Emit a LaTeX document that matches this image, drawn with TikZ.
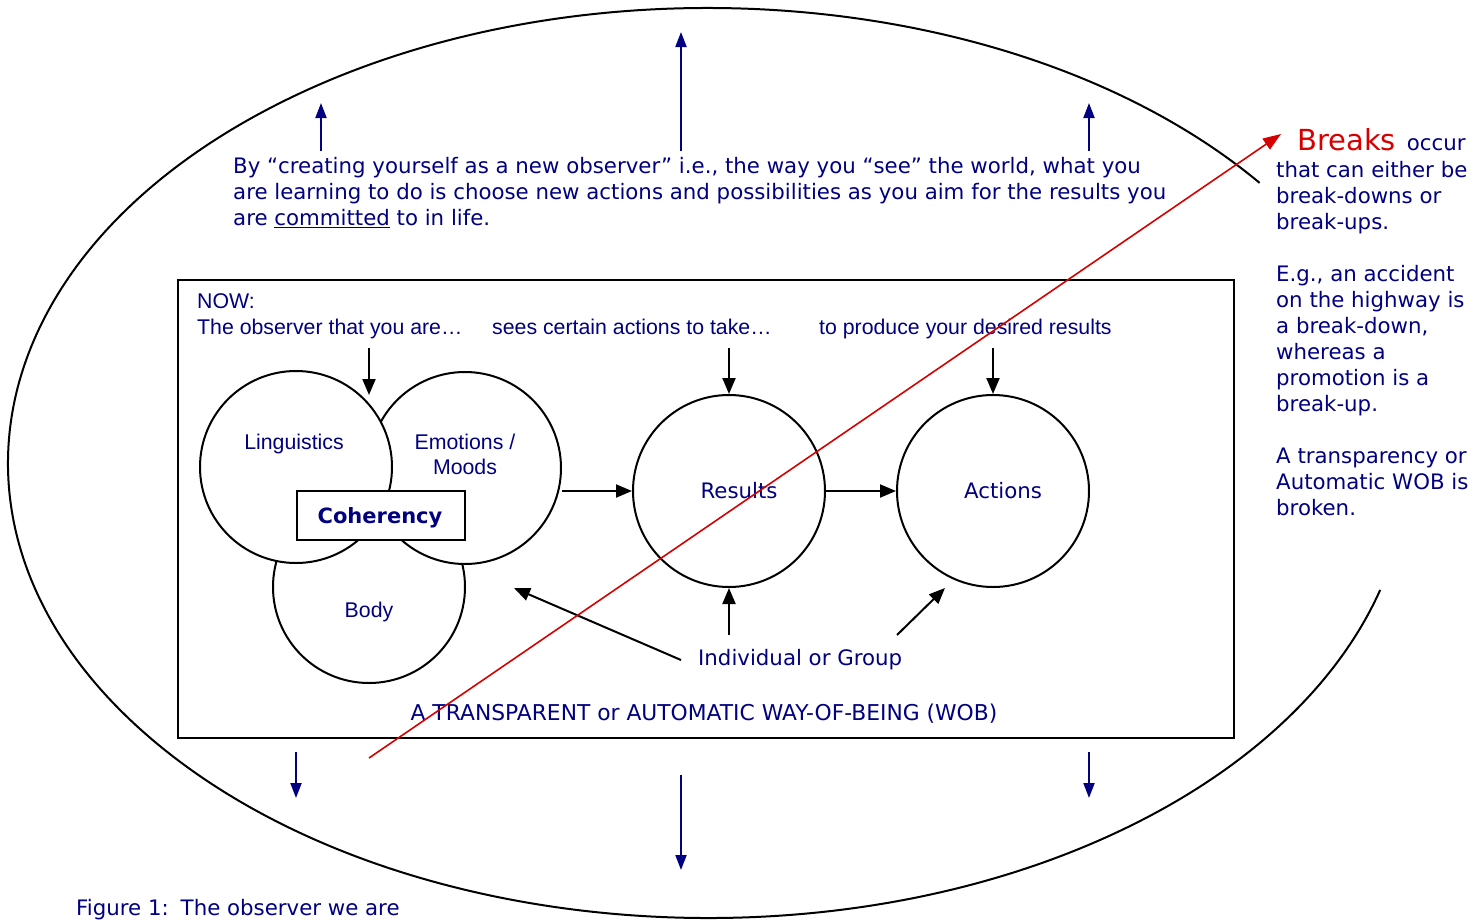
\documentclass[tikz,border=0pt]{standalone}
\usepackage{fontspec}
\setmainfont{DejaVu Sans}
\newfontfamily\verdf{DejaVu Sans}
\newfontfamily\arialf{Liberation Sans}
\usetikzlibrary{arrows.meta}
\definecolor{wobblue}{RGB}{0,0,128}
\definecolor{brkred}{RGB}{215,0,0}
\begin{document}
\begin{tikzpicture}[x=1pt,y=-1pt,
  vt/.style={font=\verdf\fontsize{21.3}{26}\selectfont, text=wobblue, inner sep=0pt},
  aft/.style={font=\arialf\fontsize{21.3}{26}\selectfont, text=wobblue, inner sep=0pt},
  ring/.style={circle, draw=black, line width=2pt, fill=white, minimum size=192pt, inner sep=0pt},
  blk/.style={draw=black, line width=2pt, -{Triangle[length=16pt,width=13pt]}},
  blu/.style={draw=wobblue, line width=2pt, -{Triangle[length=15pt,width=11pt]}},
  redarr/.style={draw=brkred, line width=1.6pt, -{Triangle[length=18pt,width=13pt]}},
]
\useasboundingbox (0,0) rectangle (1473,919);

% outer ellipse (open on the right)
\draw[line width=2pt] (708,463) ++(-38:700 and 455)
  arc[start angle=-38, end angle=-343.8, x radius=700, y radius=455];

% top paragraph
\node[vt, anchor=base west] (p1) at (233,173) {By “creating yourself as a new observer” i.e., the way you “see” the world, what you};
\node[vt, anchor=base west] (p2) at (233,199) {are learning to do is choose new actions and possibilities as you aim for the results you};
\node[vt, anchor=base west] (p3) at (233,225) {are \underline{committed} to in life.};

% blue arrows up
\coordinate (u1s) at (321,151); \coordinate (u1e) at (321,103);
\coordinate (u2s) at (681,151); \coordinate (u2e) at (681,32);
\coordinate (u3s) at (1089,151); \coordinate (u3e) at (1089,103);
\draw[blu] (u1s) -- (u1e);
\draw[blu] (u2s) -- (u2e);
\draw[blu] (u3s) -- (u3e);

% blue arrows down
\coordinate (d1s) at (296,752); \coordinate (d1e) at (296,798);
\coordinate (d2s) at (681,775); \coordinate (d2e) at (681,870);
\coordinate (d3s) at (1089,752); \coordinate (d3e) at (1089,798);
\draw[blu] (d1s) -- (d1e);
\draw[blu] (d2s) -- (d2e);
\draw[blu] (d3s) -- (d3e);

% WOB box
\node[draw=black, line width=2pt, minimum width=1056pt, minimum height=458pt, inner sep=0pt, anchor=north west] (wob) at (177,279) {};

\node[aft, anchor=base west] (now) at (197,308) {NOW:};
\node[aft, anchor=base west] (obs) at (197,334) {The observer that you are…};
\node[aft, anchor=base west] (sees) at (492,334) {sees certain actions to take…};
\node[aft, anchor=base west] (prod) at (819,334) {to produce your desired results};

% circles
\node[ring] (body) at (369,587) {};
\node[ring] (emo) at (465,468) {};
\node[ring] (ling) at (296,467) {};
\node[draw=black, line width=2pt, fill=white, minimum width=168pt, minimum height=49pt, inner sep=0pt] (coh) at (381,515) {};
\node[font=\verdf\bfseries\fontsize{21}{24}\selectfont, text=wobblue, inner sep=0pt, anchor=base] (coht) at (380,523) {Coherency};

\node[aft, anchor=base] (lingt) at (294,449) {Linguistics};
\node[aft, anchor=base] (emot) at (465,449) {Emotions /};
\node[aft, anchor=base] (moodt) at (465,474) {Moods};
\node[aft, anchor=base] (bodyt) at (369,617) {Body};

\node[ring] (res) at (729,491) {};
\node[ring] (act) at (993,491) {};
\node[vt, anchor=base] (rest) at (739,498) {Results};
\node[vt, anchor=base] (actt) at (1003,498) {Actions};

% black arrows
\coordinate (o1) at (369,348); \coordinate (o2) at (369,395);
\draw[blk] (o1) -- (o2);
\coordinate (s1) at (729,348);
\draw[blk] (s1) -- (res.north);
\coordinate (r1) at (993,348);
\draw[blk] (r1) -- (act.north);
\draw[blk] (emo.east |- res.west) -- (res.west);
\draw[blk] (res.east) -- (act.west);

\node[vt, anchor=base west] (ind) at (698,665) {Individual or Group};
\coordinate (i1) at (729,635);
\draw[blk] (i1) -- (res.south);
\coordinate (i2) at (681,660); \coordinate (i2e) at (514,588);
\draw[blk] (i2) -- (i2e);
\coordinate (i3) at (897,635); \coordinate (i3e) at (945,588);
\draw[blk] (i3) -- (i3e);

\node[font=\verdf\fontsize{21.8}{26}\selectfont, text=wobblue, inner sep=0pt, anchor=base] (wobt) at (704,720) {A TRANSPARENT or AUTOMATIC WAY-OF-BEING (WOB)};

% red break arrow
\coordinate (b1) at (369,758); \coordinate (b2) at (1281,134);
\draw[redarr] (b1) -- (b2);

% right text
\node[vt, anchor=base west] (brk) at (1297,150) {{\color{brkred}\fontsize{29}{30}\selectfont Breaks}\hspace{11pt}occur};
\node[vt, anchor=base west] (t1) at (1276,177) {that can either be};
\node[vt, anchor=base west] (t2) at (1276,203) {break-downs or};
\node[vt, anchor=base west] (t3) at (1276,229) {break-ups.};
\node[vt, anchor=base west] (t4) at (1276,281) {E.g., an accident};
\node[vt, anchor=base west] (t5) at (1276,307) {on the highway is};
\node[vt, anchor=base west] (t6) at (1276,333) {a break-down,};
\node[vt, anchor=base west] (t7) at (1276,359) {whereas a};
\node[vt, anchor=base west] (t8) at (1276,385) {promotion is a};
\node[vt, anchor=base west] (t9) at (1276,411) {break-up.};
\node[vt, anchor=base west] (t10) at (1276,463) {A transparency or};
\node[vt, anchor=base west] (t11) at (1276,489) {Automatic WOB is};
\node[vt, anchor=base west] (t12) at (1276,515) {broken.};

% caption
\node[vt, anchor=base west] (cap) at (76,915) {Figure 1:\hspace{3pt} The observer we are};
\end{tikzpicture}
\end{document}
